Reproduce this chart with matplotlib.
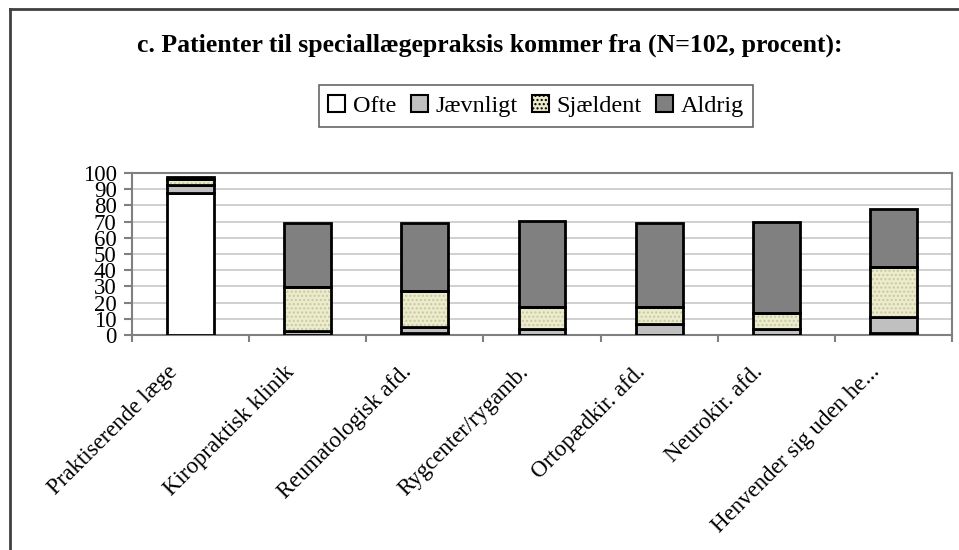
import matplotlib
matplotlib.use("Agg")
import matplotlib.pyplot as plt
import matplotlib.transforms as mtransforms
import numpy as np
from matplotlib.lines import Line2D
from matplotlib.patches import Patch

plt.rcParams["font.family"] = ["Liberation Serif", "DejaVu Serif"]

# --------------------------------------------------------------------------
# Data (percent of N=102)
# --------------------------------------------------------------------------
categories = [
    "Praktiserende læge",
    "Kiropraktisk klinik",
    "Reumatologisk afd.",
    "Rygcenter/rygamb.",
    "Ortopædkir. afd.",
    "Neurokir. afd.",
    "Henvender sig uden he...",
]
series_names = ["Ofte", "Jævnligt", "Sjældent", "Aldrig"]
ofte = [87.5, 0, 1, 0, 0, 0, 1.5]
jaevnligt = [5, 2.5, 4, 3.5, 7, 3.5, 9.5]
sjaeldent = [3.5, 27, 22, 14, 10, 10, 31]
aldrig = [1.5, 39.5, 42, 53, 52, 56, 36]
yticks = list(range(0, 101, 10))

title = "c. Patienter til speciallægepraksis kommer fra (N=102, procent):"

# --------------------------------------------------------------------------
# Figure
# --------------------------------------------------------------------------
fig = plt.figure(figsize=(9.59, 5.5), dpi=100)
ax = fig.add_axes([132 / 959, 1 - 335 / 550, (952 - 132) / 959, (335 - 173) / 550])

x = np.arange(len(categories))
width = 0.40
series = [ofte, jaevnligt, sjaeldent, aldrig]
colors = ["#ffffff", "#c0c0c0", "#ecebcb", "#808080"]

bottom = np.zeros(len(categories))
for vals, col, name in zip(series, colors, series_names):
    vals = np.asarray(vals, dtype=float)
    if name == "Sjældent":
        # dotted fill first, black outline on top
        ax.bar(x, vals, width, bottom=bottom, color=col, hatch="....",
               edgecolor="#c9c8a4", linewidth=0, zorder=3)
        ax.bar(x, vals, width, bottom=bottom, fill=False,
               edgecolor="black", linewidth=2, zorder=4)
    else:
        ax.bar(x, vals, width, bottom=bottom, color=col,
               edgecolor="black", linewidth=2, zorder=3)
    bottom += vals

ax.set_xlim(-0.5, len(categories) - 0.5)
ax.set_ylim(0, 100)
ax.set_yticks(yticks)
ax.set_yticklabels([str(v) for v in yticks], fontsize=16.5)
ax.yaxis.grid(True, color="#c8c8c8", linewidth=1.2, zorder=0)
ax.set_axisbelow(True)

ax.set_xticks(x)
ax.set_xticklabels(categories, rotation=45, ha="right", va="top",
                   rotation_mode="anchor", fontsize=16.5)
ax.tick_params(axis="x", which="major", length=0, pad=19)
shift = mtransforms.ScaledTranslation(-24 / 100, 0, fig.dpi_scale_trans)
for lbl in ax.get_xticklabels():
    lbl.set_transform(lbl.get_transform() + shift)
ax.set_xticks(np.arange(-0.5, len(categories), 1.0), minor=True)
ax.tick_params(axis="x", which="minor", length=5, width=1.5, color="#808080",
               direction="out")
ax.tick_params(axis="y", length=6, width=1.5, color="#808080", pad=5)

for side in ["top", "right", "left", "bottom"]:
    ax.spines[side].set_color("#808080")
    ax.spines[side].set_linewidth(1.5)

# Legend
handles = [Patch(facecolor=c, edgecolor="black", linewidth=1.5,
                 hatch="...." if n == "Sjældent" else None)
           for c, n in zip(colors, series_names)]
leg = fig.legend(handles, series_names, loc="center",
                 bbox_to_anchor=(536 / 959, 1 - 106 / 550), ncol=4,
                 fontsize=17.5, handlelength=0.7, handleheight=0.7,
                 handletextpad=0.3, columnspacing=0.6, borderpad=0.4,
                 fancybox=False, frameon=True)
leg.get_frame().set_edgecolor("#404040")
leg.get_frame().set_linewidth(1.2)

fig.text(490 / 959, 1 - 45 / 550, title, ha="center", va="center",
         fontsize=18.5, fontweight="bold")

# Outer chart frame (cut off at right and bottom edges in the original)
fig.add_artist(Line2D([10 / 959, 1.0], [1 - 9 / 550] * 2,
                      transform=fig.transFigure, color="#404040", linewidth=2))
fig.add_artist(Line2D([10 / 959] * 2, [0.0, 1 - 9 / 550],
                      transform=fig.transFigure, color="#404040", linewidth=2))

fig.savefig("out.png", dpi=100)
